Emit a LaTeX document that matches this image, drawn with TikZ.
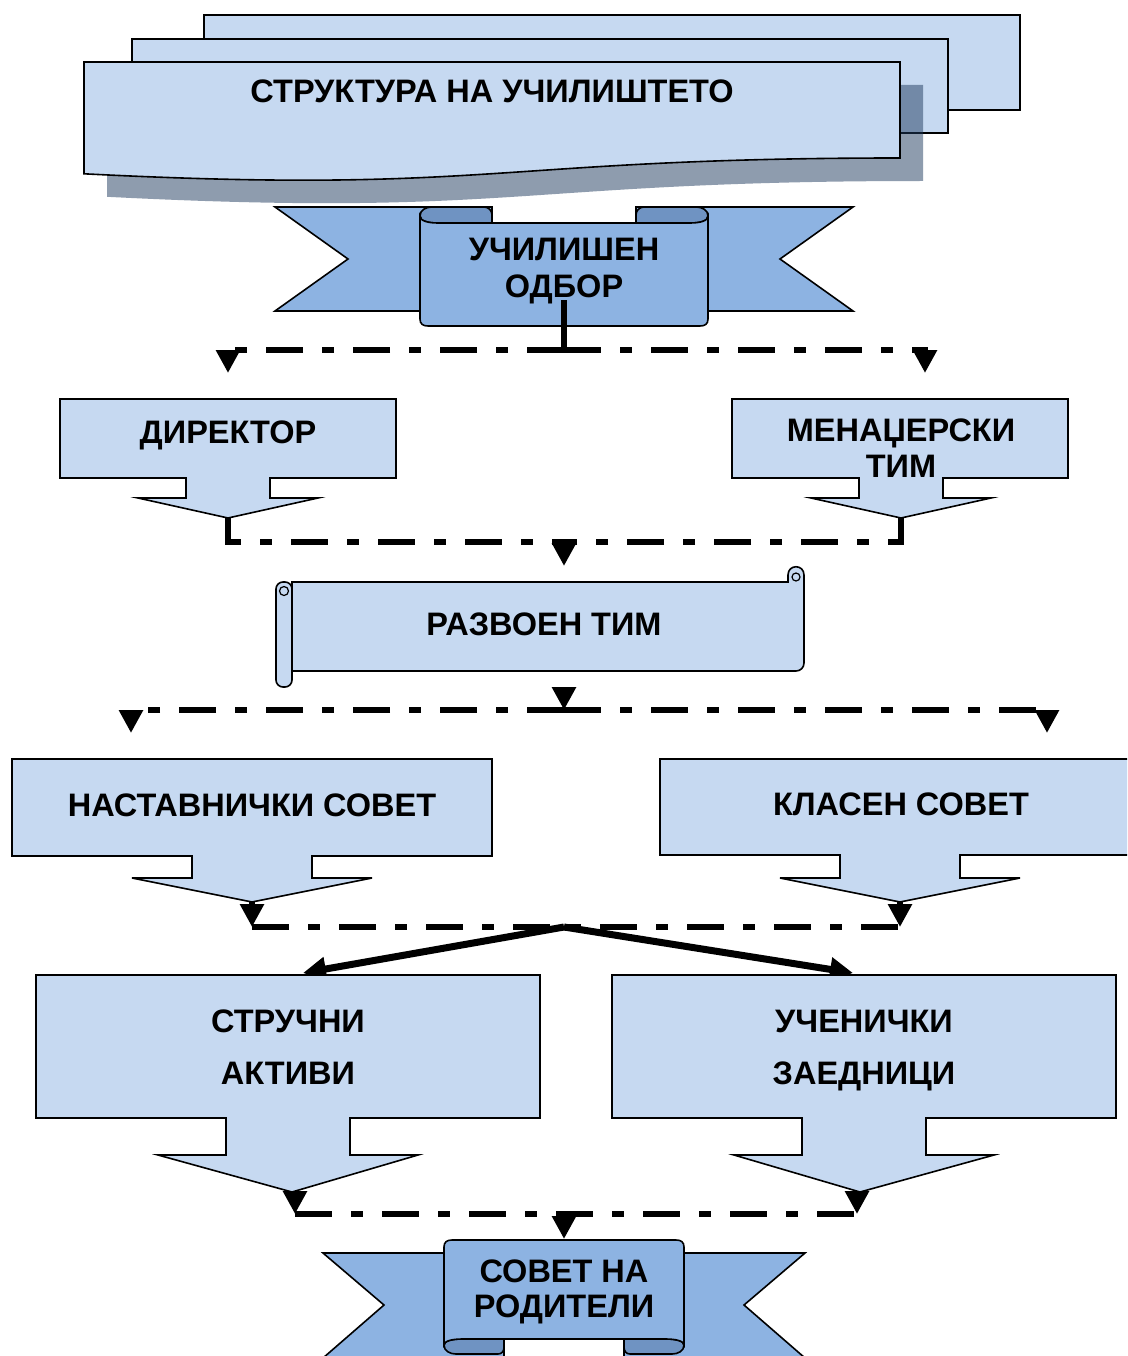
\documentclass[tikz,border=0pt]{standalone}
\usepackage{fontspec}
\setmainfont{Liberation Sans}
\usetikzlibrary{arrows.meta}
\definecolor{lightfill}{HTML}{C6D9F1}
\definecolor{ribfill}{HTML}{8DB3E2}
\definecolor{folddark}{HTML}{6F93C2}
\definecolor{shadowc}{HTML}{1F3A5F}
\begin{document}
\begin{tikzpicture}[x=1pt,y=-1pt,
 shp/.style={draw=black, line width=1.6pt, fill=lightfill, line join=miter},
 rib/.style={draw=black, line width=1.6pt, fill=ribfill},
 fold/.style={draw=black, line width=1.6pt, fill=folddark},
 lbl/.style={font=\fontsize{32.5}{38}\selectfont\bfseries, anchor=base, inner sep=0pt},
 dd/.style={line width=6.5pt, dash pattern=on 37pt off 19pt on 12pt off 19pt},
 solidc/.style={line width=6.5pt},
 tri/.style={-{Triangle[width=23pt,length=23pt]}},
]
\useasboundingbox (0,0) rectangle (1127,1356);
\fill[white] (0,0) rectangle (1127,1356);
\clip (0,0) rectangle (1127,1356);

% ---- title: stacked documents
\draw[shp] (204,15) rectangle (1020,110);
\draw[shp] (132,39) rectangle (948,133);
\fill[shadowc,opacity=0.5] (107,85) -- (923,85) -- (923,181) .. controls (515,181) and (515,217.6) .. (107,196.8) -- cycle;
\draw[shp] (84,62) -- (900,62) -- (900,158) .. controls (492,158) and (492,194.6) .. (84,173.8) -- cycle;
\node[lbl] (title) at (492,103) {СТРУКТУРА НА УЧИЛИШТЕТО};

% ---- top ribbon
\draw[rib] (275,207) -- (492,207) -- (492,311) -- (275,311) -- (348,259) -- cycle;
\draw[rib] (853,207) -- (636,207) -- (636,311) -- (853,311) -- (780,259) -- cycle;
\draw[fold] (420,216) .. controls (420,210) and (426,207) .. (432,207) -- (484,207) .. controls (489,207) and (492,211) .. (492,215) -- (492,223) -- (438,223) .. controls (428,223) and (420,221) .. (420,216) -- cycle;
\draw[fold] (708,216) .. controls (708,210) and (702,207) .. (696,207) -- (644,207) .. controls (639,207) and (636,211) .. (636,215) -- (636,223) -- (690,223) .. controls (700,223) and (708,221) .. (708,216) -- cycle;
\draw[rib] (420,216) .. controls (420,221) and (428,223) .. (438,223) -- (690,223) .. controls (700,223) and (708,221) .. (708,216) -- (708,319) .. controls (708,324) and (705,326) .. (700,326) -- (428,326) .. controls (423,326) and (420,324) .. (420,319) -- cycle;
\node[lbl] (odbor1) at (564,260) {УЧИЛИШЕН};
\node[lbl] (odbor2) at (564,297) {ОДБОР};

\coordinate (odborsrc) at (564,300);
\coordinate (j1) at (564,350);
\coordinate (dirin) at (228,373);
\coordinate (mgrin) at (925,373);
\draw[solidc] (odborsrc) -- (j1);
\draw[dd,tri] (j1) -| (dirin);
\draw[dd,tri] (j1) -| (mgrin);

% ---- director / manager callouts
\draw[shp] (60,399) -- (396,399) -- (396,478) -- (270,478) -- (270,498) -- (318,498) -- (228,518) -- (138,498) -- (186,498) -- (186,478) -- (60,478) -- cycle;
\node[lbl] (dir) at (228,443) {ДИРЕКТОР};
\draw[shp] (732,399) -- (1068,399) -- (1068,478) -- (943,478) -- (943,498) -- (991,498) -- (901,518) -- (811,498) -- (859,498) -- (859,478) -- (732,478) -- cycle;
\node[lbl] (mgr1) at (901,441) {МЕНАЏЕРСКИ};
\node[lbl] (mgr2) at (901,477) {ТИМ};

\coordinate (dirtip) at (228,518);
\coordinate (mgrtip) at (901,518);
\coordinate (j2) at (564,542);
\coordinate (scrin) at (564,566);
\draw[dd] (dirtip) |- (j2);
\draw[dd] (mgrtip) |- (j2);
\draw[solidc,tri] (j2) -- (scrin);

% ---- scroll
\draw[shp] (292,582) -- (788,582) -- (788,575) .. controls (788,564) and (804,564) .. (804,575) -- (804,663) .. controls (804,668) and (800,671) .. (796,671) -- (292,671) -- cycle;
\draw[shp, line width=1.2pt] (796,577) circle (4pt);
\draw[shp, rounded corners=7pt] (276,582) rectangle (292,687);
\draw[shp, line width=1.2pt] (284,591) circle (4.5pt);
\node[lbl] (razv) at (544,635) {РАЗВОЕН ТИМ};

\coordinate (scrout) at (564,687);
\coordinate (j3) at (564,710);
\coordinate (nastin) at (131,733);
\coordinate (klasin) at (1047,733);
\draw[solidc,tri] (scrout) -- (j3);
\draw[dd,tri] (j3) -| (nastin);
\draw[dd,tri] (j3) -| (klasin);

% ---- councils
\draw[shp] (12,759) -- (492,759) -- (492,856) -- (312,856) -- (312,878) -- (372,878) -- (252,902) -- (132,878) -- (192,878) -- (192,856) -- (12,856) -- cycle;
\node[lbl] (nast) at (252,816) {НАСТАВНИЧКИ СОВЕТ};
\draw[shp] (660,759) -- (1140,759) -- (1140,855) -- (960,855) -- (960,878) -- (1020,878) -- (900,902) -- (780,878) -- (840,878) -- (840,855) -- (660,855) -- cycle;
\node[lbl] (klas) at (901,815) {КЛАСЕН СОВЕТ};

\coordinate (nasttip) at (252,902);
\coordinate (klastip) at (900,902);
\coordinate (j4l) at (252,927);
\coordinate (j4r) at (900,927);
\coordinate (j4) at (564,927);
\draw[solidc,tri] (nasttip) -- (j4l);
\draw[solidc,tri] (klastip) -- (j4r);
\draw[dd] (j4l) -- (j4r);
\coordinate (strin) at (303,973);
\coordinate (uchin) at (853,973);
\draw[line width=7pt,tri] (j4) -- (strin);
\draw[line width=7pt,tri] (j4) -- (uchin);

% ---- actives / communities
\draw[shp] (36,975) -- (540,975) -- (540,1118) -- (350,1118) -- (350,1155) -- (418,1155) -- (292,1192) -- (158,1155) -- (226,1155) -- (226,1118) -- (36,1118) -- cycle;
\node[lbl] (str1) at (288,1032) {СТРУЧНИ};
\node[lbl] (str2) at (288,1084) {АКТИВИ};
\draw[shp] (612,975) -- (1116,975) -- (1116,1118) -- (926,1118) -- (926,1155) -- (994,1155) -- (860,1192) -- (734,1155) -- (802,1155) -- (802,1118) -- (612,1118) -- cycle;
\node[lbl] (uch1) at (864,1032) {УЧЕНИЧКИ};
\node[lbl] (uch2) at (864,1084) {ЗАЕДНИЦИ};

\coordinate (strtip) at (295,1191);
\coordinate (uchtip) at (857,1191);
\coordinate (j5l) at (295,1214);
\coordinate (j5r) at (857,1214);
\coordinate (j5) at (564,1214);
\coordinate (rodin) at (564,1239);
\draw[solidc,tri] (strtip) -- (j5l);
\draw[solidc,tri] (uchtip) -- (j5r);
\draw[dd] (j5l) -- (j5r);
\draw[solidc,tri] (j5) -- (rodin);

% ---- bottom ribbon
\draw[rib] (323,1253) -- (504,1253) -- (504,1358) -- (323,1358) -- (384,1305) -- cycle;
\draw[rib] (805,1253) -- (624,1253) -- (624,1358) -- (805,1358) -- (744,1305) -- cycle;
\draw[fold] (444,1345) .. controls (444,1351) and (450,1354) .. (456,1354) -- (498,1354) .. controls (502,1354) and (504,1351) .. (504,1347) -- (504,1339) -- (462,1339) .. controls (452,1339) and (444,1341) .. (444,1345) -- cycle;
\draw[fold] (684,1345) .. controls (684,1351) and (678,1354) .. (672,1354) -- (630,1354) .. controls (626,1354) and (624,1351) .. (624,1347) -- (624,1339) -- (666,1339) .. controls (676,1339) and (684,1341) .. (684,1345) -- cycle;
\draw[rib] (444,1345) -- (444,1247) .. controls (444,1242) and (447,1240) .. (452,1240) -- (676,1240) .. controls (681,1240) and (684,1242) .. (684,1247) -- (684,1345) .. controls (684,1341) and (676,1339) .. (666,1339) -- (462,1339) .. controls (452,1339) and (444,1341) .. (444,1345) -- cycle;
\node[lbl] (rod1) at (564,1282) {СОВЕТ НА};
\node[lbl] (rod2) at (564,1317) {РОДИТЕЛИ};
\end{tikzpicture}
\end{document}
